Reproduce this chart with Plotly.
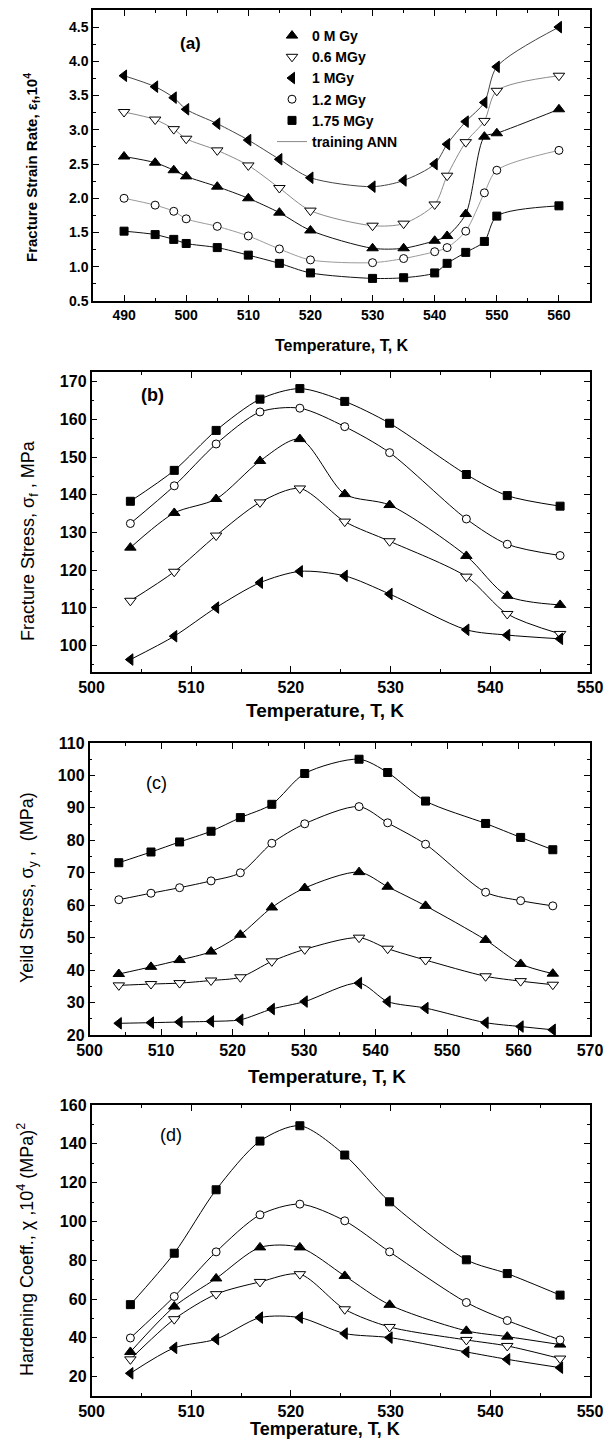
import plotly.graph_objects as go

W, H = 607, 1439

SERIES = ["0 M Gy", "0.6 MGy", "1 MGy", "1.2 MGy", "1.75 MGy"]

# ---- panel (a): fracture strain rate ----
T_a = [490, 495, 498, 500, 505, 510, 515, 520, 530, 535, 540, 542, 545, 548, 550, 560]
a_0 = [2.61, 2.52, 2.41, 2.32, 2.17, 2.00, 1.79, 1.53, 1.27, 1.27, 1.38, 1.45, 1.77, 2.90, 2.95, 3.30]
a_06 = [3.26, 3.15, 3.01, 2.87, 2.70, 2.48, 2.15, 1.82, 1.60, 1.63, 1.91, 2.33, 2.82, 3.13, 3.57, 3.79]
a_1 = [3.79, 3.63, 3.47, 3.30, 3.09, 2.85, 2.57, 2.30, 2.17, 2.26, 2.50, 2.79, 3.12, 3.40, 3.92, 4.50]
a_12 = [2.00, 1.90, 1.81, 1.70, 1.59, 1.45, 1.26, 1.10, 1.06, 1.12, 1.22, 1.28, 1.52, 2.08, 2.41, 2.70]
a_175 = [1.52, 1.47, 1.40, 1.34, 1.28, 1.17, 1.05, 0.91, 0.83, 0.84, 0.91, 1.05, 1.21, 1.37, 1.74, 1.89]

# ---- panel (b): fracture stress ----
T_b = [503.9, 508.3, 512.5, 516.9, 520.9, 525.4, 529.9, 537.6, 541.7, 547.0]
b_0 = [126.0, 135.2, 138.9, 149.0, 154.8, 140.2, 137.3, 123.8, 113.2, 110.8]
b_06 = [111.9, 119.6, 129.2, 138.0, 141.7, 132.9, 127.7, 118.3, 108.4, 103.1]
b_1 = [96.3, 102.5, 110.1, 116.7, 119.7, 118.5, 113.7, 104.2, 102.8, 101.8]
b_12 = [132.4, 142.4, 153.5, 162.0, 163.0, 158.1, 151.2, 133.6, 126.9, 123.9]
b_175 = [138.3, 146.5, 157.1, 165.4, 168.2, 164.8, 159.0, 145.4, 139.8, 137.0]

# ---- panel (c): yield stress ----
T_c = [504.1, 508.6, 512.6, 517.0, 521.1, 525.5, 530.1, 537.7, 541.7, 547.0, 555.4, 560.3, 564.8]
c_0 = [38.8, 41.0, 43.1, 45.7, 50.9, 59.3, 65.3, 70.2, 65.7, 59.8, 49.3, 41.9, 38.9]
c_06 = [35.3, 35.7, 36.0, 36.8, 37.8, 42.7, 46.4, 50.0, 46.6, 43.1, 38.1, 36.6, 35.5]
c_1 = [23.6, 23.8, 24.0, 24.2, 24.7, 28.0, 30.3, 36.0, 30.3, 28.3, 23.8, 22.6, 21.6]
c_12 = [61.7, 63.7, 65.4, 67.5, 70.0, 79.1, 85.1, 90.4, 85.4, 78.8, 64.0, 61.4, 59.8]
c_175 = [73.1, 76.4, 79.5, 82.8, 87.0, 91.1, 100.6, 105.0, 100.9, 92.1, 85.2, 80.9, 77.1]

# ---- panel (d): hardening coefficient ----
T_d = [503.9, 508.3, 512.5, 516.9, 520.9, 525.4, 529.9, 537.6, 541.7, 547.0]
d_0 = [32.7, 56.1, 70.6, 86.6, 86.6, 71.9, 57.0, 43.6, 40.6, 36.5]
d_06 = [28.9, 49.6, 62.5, 68.8, 72.8, 54.7, 45.6, 38.9, 35.8, 29.3]
d_1 = [21.7, 34.8, 39.3, 50.4, 50.4, 42.2, 40.1, 32.7, 28.9, 24.6]
d_12 = [39.9, 61.3, 84.3, 103.4, 108.9, 100.3, 84.3, 58.2, 48.9, 38.9]
d_175 = [57.1, 83.6, 116.3, 141.4, 149.3, 134.2, 110.1, 80.2, 73.1, 62.0]

FONT = "Liberation Sans, Arial, sans-serif"
NARROW = "Liberation Sans Narrow, Liberation Sans, Arial, sans-serif"

MARKERS = [
    dict(symbol="triangle-up", size=10, color="black", line=dict(color="black", width=1)),
    dict(symbol="triangle-down", size=10, color="white", line=dict(color="black", width=1)),
    dict(symbol="triangle-left", size=10, color="black", line=dict(color="black", width=1)),
    dict(symbol="circle", size=8, color="white", line=dict(color="black", width=1)),
    dict(symbol="square", size=8, color="black", line=dict(color="black", width=1)),
]
LINE_A = ["#111111", "#8a8a8a", "#444444", "#9a9a9a", "#111111"]


def px(x):
    return x / W


def py(y):
    return 1 - y / H


fig = go.Figure()

panels = [
    ("x", "y", T_a, [a_0, a_06, a_1, a_12, a_175], LINE_A),
    ("x2", "y2", T_b, [b_0, b_06, b_1, b_12, b_175], ["black"] * 5),
    ("x3", "y3", T_c, [c_0, c_06, c_1, c_12, c_175], ["black"] * 5),
    ("x4", "y4", T_d, [d_0, d_06, d_1, d_12, d_175], ["black"] * 5),
]

for pi, (xa, ya, T, vals, lcols) in enumerate(panels):
    for si, v in enumerate(vals):
        fig.add_trace(go.Scatter(
            x=T, y=v, mode="lines", xaxis=xa, yaxis=ya,
            line=dict(color=lcols[si], width=1, shape="spline", smoothing=0.8),
            showlegend=False, hoverinfo="skip"))
    for si, v in enumerate(vals):
        fig.add_trace(go.Scatter(
            x=T, y=v, mode="markers", xaxis=xa, yaxis=ya,
            marker=MARKERS[si], name=SERIES[si],
            showlegend=(pi == 0), legendrank=si + 1))

# legend entry for the ANN curves
fig.add_trace(go.Scatter(
    x=[None], y=[None], mode="lines", xaxis="x", yaxis="y",
    line=dict(color="#888888", width=1), name="training ANN", legendrank=10))


def axis(dom_x=None, dom_y=None, rng=None, dtick=None, minor=None, fsize=16,
         family=FONT, fmt=None, anchor=None):
    d = dict(
        range=rng, dtick=dtick, tick0=0, showline=True, linecolor="black",
        linewidth=1.5, mirror="ticks", ticks="inside", ticklen=6, tickwidth=1.2,
        tickcolor="black", showgrid=False, zeroline=False, automargin=False,
        tickfont=dict(family=family, size=fsize, color="black", weight="bold"),
        minor=dict(ticks="inside", ticklen=3, tickwidth=1, tickcolor="black",
                   dtick=minor, showgrid=False),
        anchor=anchor,
    )
    if dom_x is not None:
        d["domain"] = dom_x
    if dom_y is not None:
        d["domain"] = dom_y
    if fmt:
        d["tickformat"] = fmt
    return d


tops = [10, 372, 743, 1105]
bots = [301, 672, 1035, 1396]
lefts = [93, 91.5, 89.5, 91.5]
right = 590

fig.update_layout(
    xaxis=axis(dom_x=[px(lefts[0]), px(right)], rng=[485, 565], dtick=10, minor=5,
               fsize=14, family=NARROW, anchor="y"),
    yaxis=axis(dom_y=[py(bots[0]), py(tops[0])], rng=[0.5, 4.75], dtick=0.5, minor=0.25,
               fsize=14, family=NARROW, fmt=".1f", anchor="x"),
    xaxis2=axis(dom_x=[px(lefts[1]), px(right)], rng=[500, 550], dtick=10, minor=5, anchor="y2"),
    yaxis2=axis(dom_y=[py(bots[1]), py(tops[1])], rng=[93, 172.6], dtick=10, minor=5, anchor="x2"),
    xaxis3=axis(dom_x=[px(lefts[2]), px(right)], rng=[500, 570], dtick=10, minor=5, anchor="y3"),
    yaxis3=axis(dom_y=[py(bots[2]), py(tops[2])], rng=[20, 110], dtick=10, minor=5, anchor="x3"),
    xaxis4=axis(dom_x=[px(lefts[3]), px(right)], rng=[500, 550], dtick=10, minor=5, anchor="y4"),
    yaxis4=axis(dom_y=[py(bots[3]), py(tops[3])], rng=[10, 160], dtick=20, minor=10, anchor="x4"),
)
for k in ["yaxis", "yaxis2", "yaxis3", "yaxis4"]:
    fig.layout[k].tick0 = 0
fig.layout.yaxis.tick0 = 0.5

annots = [
    # x-axis titles
    dict(text="<b>Temperature, T, K</b>", x=342, y=345, size=16, family=NARROW, angle=0),
    dict(text="<b>Temperature, T, K</b>", x=325, y=710, size=19, family=FONT, angle=0),
    dict(text="<b>Temperature, T, K</b>", x=327, y=1076, size=19, family=FONT, angle=0),
    dict(text="<b>Temperature, T, K</b>", x=325, y=1429, size=18, family=FONT, angle=0),
    # y-axis titles
    dict(text="<b>Fracture Strain Rate, ε<sub>f</sub>,10<sup>4</sup></b>", x=31, y=168,
         size=15, family=NARROW, angle=-90),
    dict(text="Fracture Stress, σ<sub>f</sub> , MPa", x=29, y=541, size=18, family=FONT, angle=-90),
    dict(text="Yeild Stress, σ<sub>y</sub> ,  (MPa)", x=29, y=888, size=18, family=FONT, angle=-90),
    dict(text="Hardening Coeff., χ ,10<sup>4</sup> (MPa)<sup>2</sup>", x=25, y=1250, size=18,
         family=FONT, angle=-90),
    # panel labels
    dict(text="<b>(a)</b>", x=190, y=43, size=17, family=FONT, angle=0),
    dict(text="<b>(b)</b>", x=152, y=395, size=18, family=FONT, angle=0),
    dict(text="(c)", x=156, y=783, size=18, family=FONT, angle=0),
    dict(text="(d)", x=171, y=1135, size=18, family=FONT, angle=0),
]
for a in annots:
    fig.add_annotation(
        text=a["text"], x=px(a["x"]), y=py(a["y"]), xref="paper", yref="paper",
        xanchor="center", yanchor="middle", showarrow=False, textangle=a["angle"],
        font=dict(family=a["family"], size=a["size"], color="black"))

fig.update_layout(
    width=W, height=H,
    margin=dict(l=0, r=0, t=0, b=0, autoexpand=False),
    paper_bgcolor="white", plot_bgcolor="white",
    font=dict(family=FONT, color="black"),
    showlegend=True,
    legend=dict(
        x=px(272), y=py(20), xanchor="left", yanchor="top",
        bgcolor="rgba(0,0,0,0)", borderwidth=0, tracegroupgap=0,
        font=dict(family=FONT, size=14, color="black", weight="bold"),
        itemwidth=30, traceorder="normal",
    ),
)

fig.write_html(
    "out.html",
    config={"displayModeBar": False},
    post_script="document.body.style.margin='0';document.body.style.overflow='hidden';",
)
